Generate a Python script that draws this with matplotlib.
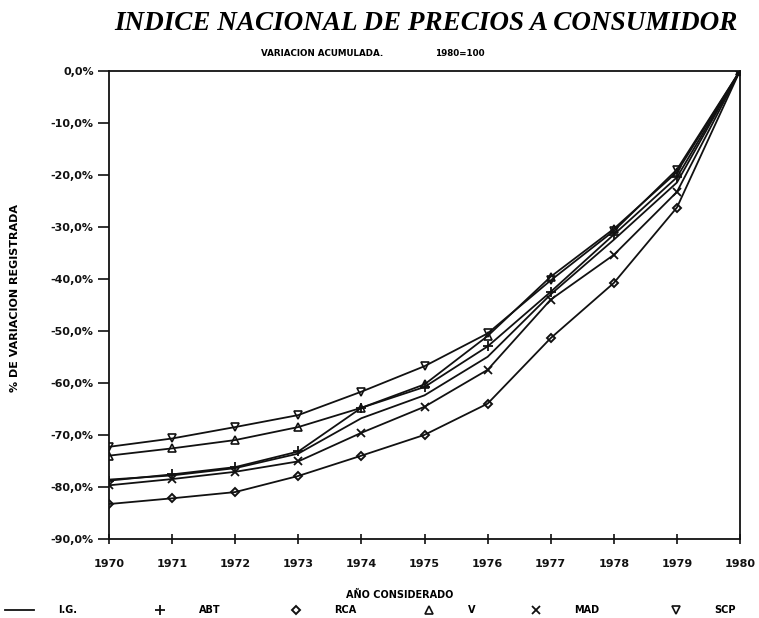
import matplotlib.pyplot as plt
from matplotlib.lines import Line2D
from matplotlib.ticker import FuncFormatter

years = [1970, 1971, 1972, 1973, 1974, 1975, 1976, 1977, 1978, 1979, 1980]

ig = [-78.6, -77.8, -76.4, -73.6, -66.8, -62.4, -55.0, -43.0, -32.5, -21.5, 0.0]
abt = [-78.8, -77.6, -76.2, -73.2, -64.8, -60.8, -53.0, -42.5, -31.5, -20.5, 0.0]
rca = [-83.3, -82.2, -81.0, -77.9, -74.0, -70.0, -64.0, -51.4, -40.8, -26.3, 0.0]
v = [-74.0, -72.6, -71.0, -68.5, -64.8, -60.3, -51.0, -39.6, -30.4, -19.5, 0.0]
mad = [-79.7, -78.5, -77.1, -75.1, -69.6, -64.6, -57.5, -44.0, -35.4, -23.3, 0.0]
scp = [-72.3, -70.7, -68.5, -66.2, -61.7, -56.8, -50.5, -40.3, -30.8, -19.0, 0.0]

y_ticks = [0, -10, -20, -30, -40, -50, -60, -70, -80, -90]
labels = ['I.G.', 'ABT', 'RCA', 'V', 'MAD', 'SCP']

ink = '#111111'
lw = 1.3
fs = 8

fig = plt.figure(figsize=(7.59, 6.18), dpi=100)
ax = fig.add_axes([0.1436, 0.128, 0.8314, 0.7576])

styles = [
    dict(marker=None),
    dict(marker='+', ms=7, mew=1.3),
    dict(marker='D', ms=4, mfc='none', mew=1.4),
    dict(marker='^', ms=6, mfc='none', mew=1.2),
    dict(marker='x', ms=6, mew=1.3),
    dict(marker='v', ms=6, mfc='none', mew=1.2),
]
for series, st in zip([ig, abt, rca, v, mad, scp], styles):
    ax.plot(years, series, '-', color=ink, lw=lw, **st)

ax.set_xlim(1970, 1980)
ax.set_ylim(-90, 0)
ax.set_xticks(years)
ax.set_yticks(y_ticks)
ax.yaxis.set_major_formatter(FuncFormatter(lambda y, _: f'{y:.1f}%'.replace('.', ',')))
ax.tick_params(axis='y', direction='out', length=8, width=1.2, colors=ink,
               labelsize=fs, pad=3)
ax.tick_params(axis='x', direction='inout', length=7, width=1.2, colors=ink,
               labelsize=fs, pad=11)
for lab in ax.get_xticklabels() + ax.get_yticklabels():
    lab.set_fontweight('bold')
for s in ax.spines.values():
    s.set_linewidth(1.3)
    s.set_color(ink)

ax.set_ylabel('% DE VARIACION REGISTRADA', fontsize=fs, fontweight='bold')
ax.yaxis.set_label_coords(-0.141, 0.515)

fig.text(0.561, 0.962, 'INDICE NACIONAL DE PRECIOS A CONSUMIDOR', ha='center', va='center',
         fontsize=19.5, fontstyle='italic', fontweight='bold', family='Liberation Serif')
fig.text(0.424, 0.914, 'VARIACION ACUMULADA.', ha='center', va='center',
         fontsize=6.3, fontweight='bold')
fig.text(0.606, 0.914, '1980=100', ha='center', va='center', fontsize=6.3, fontweight='bold')
fig.text(0.527, 0.037, 'AÑO CONSIDERADO', ha='center', va='center', fontsize=7,
         fontweight='bold')

# legend entries sit at fixed spots along the bottom, like the original print
entry_x = [5, 145, 281, 414, 521, 661]
for lab, st, x0 in zip(labels, styles, entry_x):
    h = Line2D([], [], color=ink, lw=lw if st['marker'] is None else 0, **st)
    fig.legend([h], [lab], loc='center left', bbox_to_anchor=(x0 / 759, 0.013),
               frameon=False, borderpad=0, borderaxespad=0, handlelength=3.0,
               handletextpad=2.5, prop={'size': 7, 'weight': 'bold'})

fig.savefig('out.png', dpi=100)
